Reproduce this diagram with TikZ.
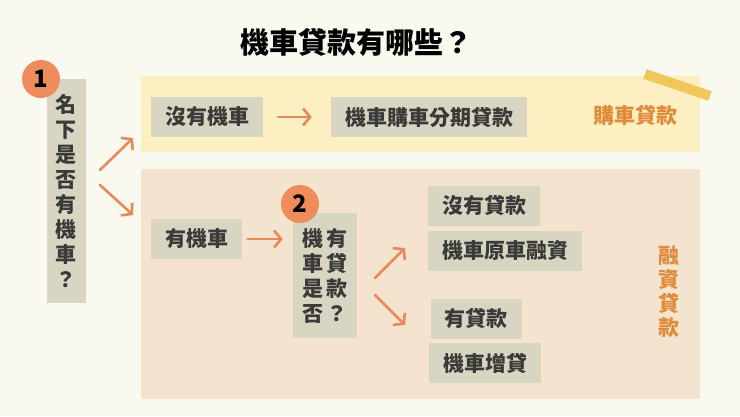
\documentclass[tikz,border=0pt]{standalone}
\usepackage{fontspec}
\newfontfamily\cjk{Noto Sans CJK TC}
\usetikzlibrary{arrows.meta}
\definecolor{bgcream}{HTML}{FAF9EF}
\definecolor{bandyellow}{HTML}{FCF0C2}
\definecolor{bandpink}{HTML}{F4E4CF}
\definecolor{tapegold}{HTML}{F1C65A}
\definecolor{boxgray}{HTML}{D9D5C3}
\definecolor{ink}{HTML}{3A3A38}
\definecolor{arrorange}{HTML}{E8895A}
\definecolor{badgeorange}{HTML}{EE8D5B}
\definecolor{labelorange}{HTML}{E08A3A}
\tikzset{
   box/.style={fill=boxgray, text=ink, font=\cjk\bfseries\fontsize{21}{24}\selectfont,
      inner xsep=14pt, inner ysep=0pt, minimum height=40pt},
   vbox/.style={box, align=center, font=\cjk\bfseries\fontsize{21}{25}\selectfont, inner xsep=0pt},
   arr/.style={draw=arrorange, line width=2.6pt, line cap=round, line join=round,
      -{Straight Barb[length=7pt,width=17pt]}},
   badge/.style={circle, fill=badgeorange, minimum size=38pt, inner sep=0pt,
      font=\cjk\bfseries\fontsize{24}{24}\selectfont},
   tag/.style={text=labelorange, font=\cjk\bfseries\fontsize{21}{24}\selectfont, align=center},
}
\begin{document}
\begin{tikzpicture}[x=1pt,y=-1pt]
   \fill[bgcream] (0,0) rectangle (740,416);
   \fill[bandyellow] (141,76) rectangle (700,152);
   \fill[bandpink] (141,169) rectangle (700,399);
   \draw[tapegold, line width=10pt] (645,74) -- (710,96);
   % title
   \node[font=\cjk\bfseries\fontsize{29}{32}\selectfont, text=black] (title) at (356,42) {機車貸款有哪些？};
   % question 1
   \node[vbox, minimum width=39pt, minimum height=224pt] (q1) at (66.5,191)
      {名\\下\\是\\否\\有\\機\\車\\？};
   \node[badge] (b1) at (41,79) {1};
   \coordinate (upS) at (100,170);
   \coordinate (upE) at (133,138);
   \coordinate (dnS) at (100,185);
   \coordinate (dnE) at (133,215);
   \draw[arr] (upS) -- (upE);
   \draw[arr] (dnS) -- (dnE);
   % buy loan
   \node[box] (nocar) at (207,117) {沒有機車};
   \node[box] (plan) at (429,117) {機車購車分期貸款};
   \draw[arr, shorten <=15pt, shorten >=19pt] (nocar) -- (plan);
   \node[tag] (buytag) at (635,115) {購車貸款};
   % financing loan
   \node[box] (havecar) at (196.5,239) {有機車};
   \node[vbox, minimum width=64pt, minimum height=125pt] (q2) at (325,275.5)
      {機\hspace{4pt}有\\車\hspace{4pt}貸\\是\hspace{4pt}款\\否\hspace{4pt}？};
   \node[badge] (b2) at (300,204) {2};
   \draw[arr, shorten <=5.5pt, shorten >=10pt] (havecar.east) -- (havecar.east -| q2.west);
   \coordinate (q2upS) at (375,278);
   \coordinate (q2upE) at (405,248);
   \coordinate (q2dnS) at (375,295);
   \coordinate (q2dnE) at (405,325);
   \draw[arr] (q2upS) -- (q2upE);
   \draw[arr] (q2dnS) -- (q2dnE);
   \node[box] (noloan) at (484,205.5) {沒有貸款};
   \node[box] (refin) at (505,250.5) {機車原車融資};
   \node[box] (hasloan) at (476,318.5) {有貸款};
   \node[box] (topup) at (485,363) {機車增貸};
   \node[tag] (fintag) at (669,292) {融\\資\\貸\\款};
\end{tikzpicture}
\end{document}
